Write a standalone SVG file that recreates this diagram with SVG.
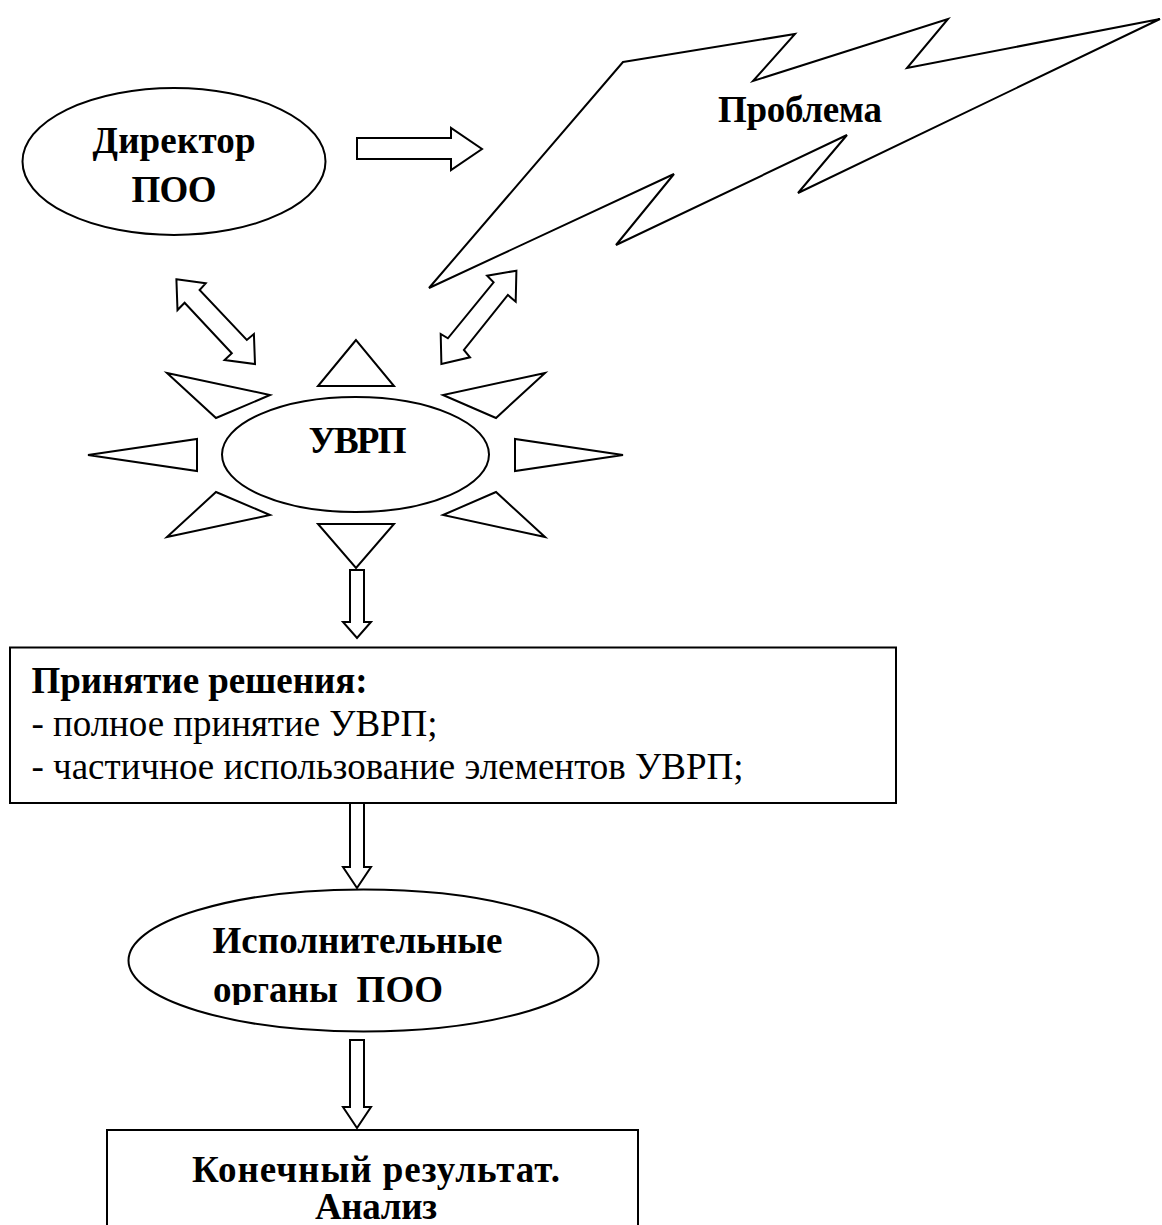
<svg xmlns="http://www.w3.org/2000/svg" width="1162" height="1225" viewBox="0 0 1162 1225">
<style>
.sh{fill:#fff;stroke:#000;stroke-width:2;stroke-linejoin:miter}
.b{font-family:"Liberation Serif","Times New Roman",serif;font-weight:bold;font-size:37px;fill:#000}
.r{font-family:"Liberation Serif","Times New Roman",serif;font-size:37px;fill:#000}
.c{text-anchor:middle}
</style>
<defs>
<clipPath id="clipIsp"><rect x="120" y="880" width="490" height="125"/></clipPath>
</defs>
<rect width="1162" height="1225" fill="#fff"/>
<g id="problem">
<polygon class="sh" points="623,62 795,34 753,81 948,19 907,68 1160,19 798,193 847,135 616,245 674,174 429,288"/>
<text class="b c" x="800" y="122" textLength="164" lengthAdjust="spacing">Проблема</text>
</g>
<g id="director">
<ellipse class="sh" cx="174" cy="161.5" rx="151.5" ry="73.5"/>
<text class="b c" x="174" y="153" textLength="163" lengthAdjust="spacing">Директор</text>
<text class="b c" x="174" y="202" textLength="85" lengthAdjust="spacing">ПОО</text>
</g>
<g id="uvrp">
<ellipse class="sh" cx="355.5" cy="454.5" rx="133.5" ry="57.5"/>
<polygon class="sh" points="356,340 318,386 394,386"/>
<polygon class="sh" points="318,524 394,524 356,568"/>
<polygon class="sh" points="167,373 270,395 216,418"/>
<polygon class="sh" points="545,373 443,395 496,418"/>
<polygon class="sh" points="88,455 197,439 197,471"/>
<polygon class="sh" points="623,455 515,439 515,471"/>
<polygon class="sh" points="167,537 270,515 216,492"/>
<polygon class="sh" points="545,537 443,515 496,492"/>
<text class="b c" x="357.5" y="453" textLength="98" lengthAdjust="spacing">УВРП</text>
</g>
<g id="decision">
<rect class="sh" x="10" y="647.5" width="886" height="155.5"/>
<text class="b" x="31.5" y="693" textLength="336" lengthAdjust="spacing">Принятие решения:</text>
<text class="r" x="31.5" y="736" textLength="406" lengthAdjust="spacing">- полное принятие УВРП;</text>
<text class="r" x="31.5" y="779" textLength="712" lengthAdjust="spacing">- частичное использование элементов УВРП;</text>
</g>
<g id="executors">
<ellipse class="sh" cx="363.5" cy="960.5" rx="235" ry="71"/>
<g clip-path="url(#clipIsp)">
<text class="b" x="212.5" y="953" textLength="290" lengthAdjust="spacing">Исполнительные</text>
<text class="b" x="213" y="1002" textLength="230" lengthAdjust="spacing" xml:space="preserve">органы  ПОО</text>
</g>
</g>
<g id="result">
<rect class="sh" x="107" y="1130" width="531" height="120"/>
<text class="b c" x="376" y="1182" textLength="368" lengthAdjust="spacing">Конечный результат.</text>
<text class="b c" x="376" y="1219" textLength="122" lengthAdjust="spacing">Анализ</text>
</g>
<g id="connectors">
<polygon class="sh" points="357,138 451,138 451,128 482,149 451,170 451,159 357,159"/>
<polygon class="sh" points="176.4,279.3 205.7,283.3 199.6,290 246.8,340 253.9,334 255,364 224.6,360 231.8,353.3 184.6,302.7 177.5,310"/>
<polygon class="sh" points="516.4,270.7 487.1,275.7 493.6,282.3 447.9,338.3 440.7,334 441.4,364 470,357.3 463.9,350 507.9,295 515.7,301.7"/>
<polygon class="sh" points="350,570 364,570 364,622 371,622 357,638 343,622 350,622"/>
<polygon class="sh" points="350,803 364,803 364,867 371,867 357,888 343,867 350,867"/>
<polygon class="sh" points="350,1040 364,1040 364,1107 371,1107 357,1128 343,1107 350,1107"/>
</g>
</svg>
